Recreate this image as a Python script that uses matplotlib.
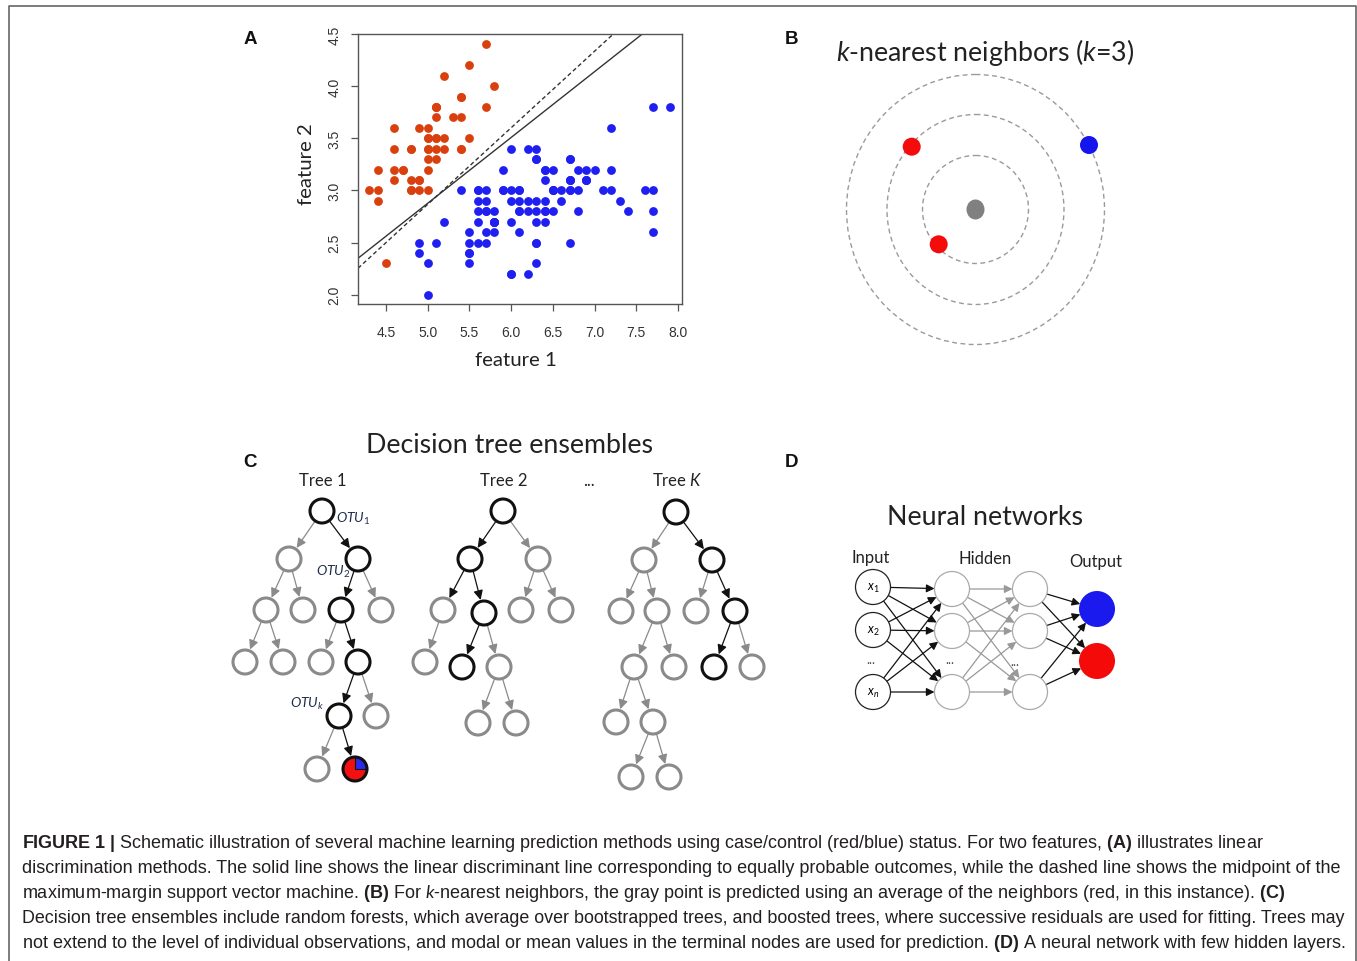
import numpy as np
import matplotlib
matplotlib.use("Agg")
import matplotlib.pyplot as plt
from matplotlib.patches import Circle, Ellipse, Wedge, FancyArrowPatch

plt.rcParams['mathtext.fontset'] = 'custom'
plt.rcParams['mathtext.rm'] = 'Lato'
plt.rcParams['mathtext.it'] = 'Lato:italic'
plt.rcParams['mathtext.bf'] = 'Liberation Sans:bold'

# ---- panel A: feature 1 / feature 2 (red = case, blue = control)
red_f1 = [5.1, 4.9, 4.7, 4.6, 5.0, 5.4, 4.6, 5.0, 4.4, 4.9, 5.4, 4.8, 4.8, 4.3, 5.8,
          5.7, 5.4, 5.1, 5.7, 5.1, 5.4, 5.1, 4.6, 5.1, 4.8, 5.0, 5.0, 5.2, 5.2, 4.7,
          4.8, 5.4, 5.2, 5.5, 4.9, 5.0, 5.5, 4.9, 4.4, 5.1, 5.0, 4.5, 4.4, 5.0, 5.1,
          4.8, 5.1, 4.6, 5.3, 5.0]
red_f2 = [3.5, 3.0, 3.2, 3.1, 3.6, 3.9, 3.4, 3.4, 2.9, 3.1, 3.7, 3.4, 3.0, 3.0, 4.0,
          4.4, 3.9, 3.5, 3.8, 3.8, 3.4, 3.7, 3.6, 3.3, 3.4, 3.0, 3.4, 3.5, 3.4, 3.2,
          3.1, 3.4, 4.1, 4.2, 3.1, 3.2, 3.5, 3.6, 3.0, 3.4, 3.5, 2.3, 3.2, 3.5, 3.8,
          3.0, 3.8, 3.2, 3.7, 3.3]
blue_f1 = [7.0, 6.4, 6.9, 5.5, 6.5, 5.7, 6.3, 4.9, 6.6, 5.2, 5.0, 5.9, 6.0, 6.1, 5.6,
           6.7, 5.6, 5.8, 6.2, 5.6, 5.9, 6.1, 6.3, 6.1, 6.4, 6.6, 6.8, 6.7, 6.0, 5.7,
           5.5, 5.5, 5.8, 6.0, 5.4, 6.0, 6.7, 6.3, 5.6, 5.5, 5.5, 6.1, 5.8, 5.0, 5.6,
           5.7, 5.7, 6.2, 5.1, 5.7,
           6.3, 5.8, 7.1, 6.3, 6.5, 7.6, 4.9, 7.3, 6.7, 7.2, 6.5, 6.4, 6.8, 5.7, 5.8,
           6.4, 6.5, 7.7, 7.7, 6.0, 6.9, 5.6, 7.7, 6.3, 6.7, 7.2, 6.2, 6.1, 6.4, 7.2,
           7.4, 7.9, 6.4, 6.3, 6.1, 7.7, 6.3, 6.4, 6.0, 6.9, 6.7, 6.9, 5.8, 6.8, 6.7,
           6.7, 6.3, 6.5, 6.2, 5.9]
blue_f2 = [3.2, 3.2, 3.1, 2.3, 2.8, 2.8, 3.3, 2.4, 2.9, 2.7, 2.0, 3.0, 2.2, 2.9, 2.9,
           3.1, 3.0, 2.7, 2.2, 2.5, 3.2, 2.8, 2.5, 2.8, 2.9, 3.0, 2.8, 3.0, 2.9, 2.6,
           2.4, 2.4, 2.7, 2.7, 3.0, 3.4, 3.1, 2.3, 3.0, 2.5, 2.6, 3.0, 2.6, 2.3, 2.7,
           3.0, 2.9, 2.9, 2.5, 2.8,
           3.3, 2.7, 3.0, 2.9, 3.0, 3.0, 2.5, 2.9, 2.5, 3.6, 3.2, 2.7, 3.0, 2.5, 2.8,
           3.2, 3.0, 3.8, 2.6, 2.2, 3.2, 2.8, 2.8, 2.7, 3.3, 3.2, 2.8, 3.0, 2.8, 3.0,
           2.8, 3.8, 2.8, 2.8, 2.6, 3.0, 3.4, 3.1, 3.0, 3.1, 3.1, 3.1, 2.7, 3.2, 3.3,
           3.0, 2.5, 3.0, 3.4, 3.0]
lda_line = (-0.278, 0.631)   # intercept, slope (solid)
svm_line = (-0.803, 0.734)   # intercept, slope (dashed)
x_ticks = [4.5, 5.0, 5.5, 6.0, 6.5, 7.0, 7.5, 8.0]
y_ticks = [2.0, 2.5, 3.0, 3.5, 4.0, 4.5]

# ---- panel B: neighbour rings and points (figure pixels)
knn_center = (975.5, 210.5)
ring_rx = [53, 88.5, 129]
ring_ry = [54, 95, 135]
knn_pts_x = [911.7, 938.7, 1089.0]
knn_pts_y = [147.7, 245.3, 146.0]
knn_pts_c = ['#f40c0c', '#f40c0c', '#1515ee']

# ---- panel C: trees (node x, y, kind) and edges (from, to, colour)
trees = [
    dict(nodes=[(322, 512, 'k'), (289, 560, 'g'), (358, 560, 'k'), (266, 611, 'g'),
                (303, 611, 'g'), (341, 611, 'k'), (381, 611, 'g'), (245, 663, 'g'),
                (283, 663, 'g'), (321, 663, 'g'), (358, 663, 'k'), (339, 717, 'k'),
                (376, 717, 'g'), (317, 770, 'g'), (355, 770, 'p')],
         edges=[(0, 1, 'g'), (0, 2, 'k'), (1, 3, 'g'), (1, 4, 'g'), (2, 5, 'k'), (2, 6, 'g'),
                (3, 7, 'g'), (3, 8, 'g'), (5, 9, 'g'), (5, 10, 'k'), (10, 11, 'k'),
                (10, 12, 'g'), (11, 13, 'g'), (11, 14, 'k')]),
    dict(nodes=[(503, 512, 'k'), (470, 560, 'k'), (538, 560, 'g'), (443, 611, 'g'),
                (484, 614, 'k'), (521, 611, 'g'), (561, 611, 'g'), (425, 663, 'g'),
                (462, 668, 'k'), (499, 668, 'g'), (478, 724, 'g'), (516, 724, 'g')],
         edges=[(0, 1, 'k'), (0, 2, 'g'), (1, 3, 'k'), (1, 4, 'k'), (2, 5, 'g'), (2, 6, 'g'),
                (3, 7, 'g'), (4, 8, 'k'), (4, 9, 'g'), (9, 10, 'g'), (9, 11, 'g')]),
    dict(nodes=[(676, 513, 'k'), (644, 561, 'g'), (712, 561, 'k'), (621, 612, 'g'),
                (657, 612, 'g'), (696, 612, 'g'), (735, 612, 'k'), (634, 668, 'g'),
                (674, 668, 'g'), (714, 668, 'k'), (752, 668, 'g'), (616, 723, 'g'),
                (653, 723, 'g'), (631, 778, 'g'), (669, 778, 'g')],
         edges=[(0, 1, 'g'), (0, 2, 'k'), (1, 3, 'g'), (1, 4, 'g'), (2, 5, 'g'), (2, 6, 'k'),
                (4, 7, 'g'), (4, 8, 'g'), (6, 9, 'k'), (6, 10, 'g'), (7, 11, 'g'),
                (7, 12, 'g'), (12, 13, 'g'), (12, 14, 'g')]),
]
tree_titles = ['Tree 1', 'Tree 2', 'Tree $K$']
otu_labels = [(r'$OTU_1$', 336, 519), (r'$OTU_2$', 316, 572), (r'$OTU_k$', 290, 704)]

# ---- panel D: layers
nn_input_y = [588, 631, 693]
nn_hidden_y = [590, 632, 693]
nn_output_y = [610, 662]
nn_x = [873, 952, 1030, 1097]
nn_input_lab = ['$x_1$', '$x_2$', '$x_n$']

caption = [
    r"$\mathbf{FIGURE\ 1\ |}$ Schematic illustration of several machine learning prediction methods using case/control (red/blue) status. For two features, $\mathbf{(A)}$ illustrates linear",
    "discrimination methods. The solid line shows the linear discriminant line corresponding to equally probable outcomes, while the dashed line shows the midpoint of the",
    r"maximum-margin support vector machine. $\mathbf{(B)}$ For $k$-nearest neighbors, the gray point is predicted using an average of the neighbors (red, in this instance). $\mathbf{(C)}$",
    "Decision tree ensembles include random forests, which average over bootstrapped trees, and boosted trees, where successive residuals are used for fitting. Trees may",
    r"not extend to the level of individual observations, and modal or mean values in the terminal nodes are used for prediction. $\mathbf{(D)}$ A neural network with few hidden layers.",
]
caption_sizes = [13.0, 13.0, 13.0, 12.85, 12.95]

W, H = 1357, 962
fig = plt.figure(figsize=(W / 100, H / 100), dpi=100)
ov = fig.add_axes([0, 0, 1, 1])
ov.set_xlim(0, W)
ov.set_ylim(H, 0)
ov.axis('off')

GRAY = '#8a8a8a'
BLACK = '#111111'
TITLE_SIZE = 19.3


def arrow(p, q, r1, r2, color, lw, ms):
    p = np.array(p, float)
    q = np.array(q, float)
    u = (q - p) / np.linalg.norm(q - p)
    a = p + u * r1
    b = q - u * r2
    ov.add_patch(FancyArrowPatch(a, b, arrowstyle='-|>', mutation_scale=ms, color=color,
                                 lw=lw, shrinkA=0, shrinkB=0, zorder=2))


# frame
ov.plot([8.5, 8.5, 1355.5, 1355.5], [H, 6.5, 6.5, H], color='#666666', lw=1.2)

# panel letters
for lab, x, y in [('A', 250, 40), ('B', 792, 40), ('C', 250, 463), ('D', 792, 463)]:
    ov.text(x, y, lab, family='Liberation Sans', weight='bold', fontsize=13.5,
            ha='center', va='center', color='#111111')

# ---- panel A
axA = fig.add_axes([358 / W, 1 - 305 / H, (682 - 358) / W, (305 - 35) / H])
axA.scatter(red_f1, red_f2, s=40, color='#d9400e', linewidths=0, zorder=3)
axA.scatter(blue_f1, blue_f2, s=40, color='#1f1ff2', linewidths=0, zorder=3)
axA.axline((0, lda_line[0]), slope=lda_line[1], color='#333333', lw=1.0)
axA.axline((0, svm_line[0]), slope=svm_line[1], color='#333333', lw=1.0,
           linestyle=(0, (3, 2)))
axA.set_xlim(4.164, 8.048)
axA.set_ylim(1.911, 4.5)
axA.set_xticks(x_ticks)
axA.set_yticks(y_ticks)
axA.set_xticklabels([f'{v:.1f}' for v in x_ticks], family='Liberation Sans', fontsize=10,
                    color='#333333')
axA.set_yticklabels([f'{v:.1f}' for v in y_ticks], family='Liberation Sans', fontsize=10,
                    color='#333333', rotation=90, va='center')
axA.tick_params(length=5, width=0.9, color='#555555')
axA.tick_params(axis='x', pad=10)
axA.tick_params(axis='y', pad=7)
for s in axA.spines.values():
    s.set_color('#555555')
    s.set_linewidth(1.0)
ov.text(516, 361, 'feature 1', family='Lato', fontsize=14.7, ha='center', va='center',
        color='#222222')
ov.text(307, 164, 'feature 2', family='Lato', fontsize=14.7, ha='center', va='center',
        rotation=90, color='#222222')

# ---- panel B
ov.text(985, 52, '$k$-nearest neighbors ($k$=3)', family='Lato', fontsize=TITLE_SIZE,
        ha='center', va='center', color='#222222')
for rx, ry in zip(ring_rx, ring_ry):
    ov.add_patch(Ellipse(knn_center, 2 * rx, 2 * ry, fill=False, edgecolor='#9a9a9a',
                         lw=1.0, linestyle=(0, (3.5, 2.5))))
for x, y, c in zip(knn_pts_x, knn_pts_y, knn_pts_c):
    ov.add_patch(Circle((x, y), 9, facecolor=c, edgecolor='none', zorder=3))
ov.add_patch(Ellipse(knn_center, 18, 20, facecolor='#808080', edgecolor='none', zorder=3))

# ---- panel C
ov.text(509, 446, 'Decision tree ensembles', family='Lato', fontsize=TITLE_SIZE,
        ha='center', va='center', color='#222222')
R = 12
for tree, title in zip(trees, tree_titles):
    nodes = tree['nodes']
    for i, j, c in tree['edges']:
        col = BLACK if c == 'k' else GRAY
        arrow(nodes[i][:2], nodes[j][:2], R, R + 1.5, col, 0.9, 14)
    for x, y, kind in nodes:
        if kind == 'p':
            ov.add_patch(Wedge((x, y), R, 0, 270, facecolor='#f21010', edgecolor='none',
                               zorder=3))
            ov.add_patch(Wedge((x, y), R, 270, 360, facecolor='#2b2bf0', edgecolor='none',
                               zorder=3))
            ov.plot([x, x, x + R], [y - R, y, y], color=BLACK, lw=0.8, zorder=4)
            ov.add_patch(Circle((x, y), R, fill=False, edgecolor=BLACK, lw=2.2, zorder=4))
        else:
            ov.add_patch(Circle((x, y), R, facecolor='white',
                                edgecolor=BLACK if kind == 'k' else GRAY, lw=2.2, zorder=3))
    ov.text(nodes[0][0] + 1, 481, title, family='Lato', fontsize=12, ha='center',
            va='center', color='#222222')
ov.text(589, 481, '...', family='Lato', fontsize=12, ha='center', va='center',
        color='#222222')
for lab, x, y in otu_labels:
    ov.text(x, y, lab, family='Lato', fontsize=10, ha='left', va='center',
            color='#1f2d4d')

# ---- panel D
ov.text(985, 518, 'Neural networks', family='Lato', fontsize=TITLE_SIZE, ha='center',
        va='center', color='#222222')
for lab, x, y in [('Input', 871, 558), ('Hidden', 985, 559), ('Output', 1096, 562)]:
    ov.text(x, y, lab, family='Lato', fontsize=12, ha='center', va='center',
            color='#222222')
RN = 17.5
for ya in nn_input_y:
    for yb in nn_hidden_y:
        arrow((nn_x[0], ya), (nn_x[1], yb), RN, RN, BLACK, 0.9, 12)
for ya in nn_hidden_y:
    for yb in nn_hidden_y:
        arrow((nn_x[1], ya), (nn_x[2], yb), RN, RN, '#999999', 0.9, 12)
for ya in nn_hidden_y:
    for yb in nn_output_y:
        arrow((nn_x[2], ya), (nn_x[3], yb), RN, RN, BLACK, 0.9, 12)
for y, lab in zip(nn_input_y, nn_input_lab):
    ov.add_patch(Circle((nn_x[0], y), RN, facecolor='white', edgecolor='#222222', lw=0.9,
                        zorder=3))
    ov.text(nn_x[0], y, lab, family='Lato', fontsize=9, ha='center', va='center',
            zorder=4)
for xx in nn_x[1:3]:
    for y in nn_hidden_y:
        ov.add_patch(Circle((xx, y), RN, facecolor='white', edgecolor='#aaaaaa', lw=0.9,
                            zorder=3))
for y, c in zip(nn_output_y, ['#1a1aee', '#f50a0a']):
    ov.add_patch(Circle((nn_x[3], y), RN + 0.5, facecolor=c, edgecolor='none', zorder=3))
for x, y in [(871, 660), (950, 660), (1015, 662)]:
    ov.text(x, y, '...', family='Lato', fontsize=9, ha='center', va='center',
            color='#444444', zorder=4)

# ---- caption
for k, (line, fs) in enumerate(zip(caption, caption_sizes)):
    ov.text(22, 848 + 25 * k, line, family='Liberation Sans', fontsize=fs, ha='left',
            va='baseline', color='#231f20')

fig.savefig('out.png', dpi=100)
